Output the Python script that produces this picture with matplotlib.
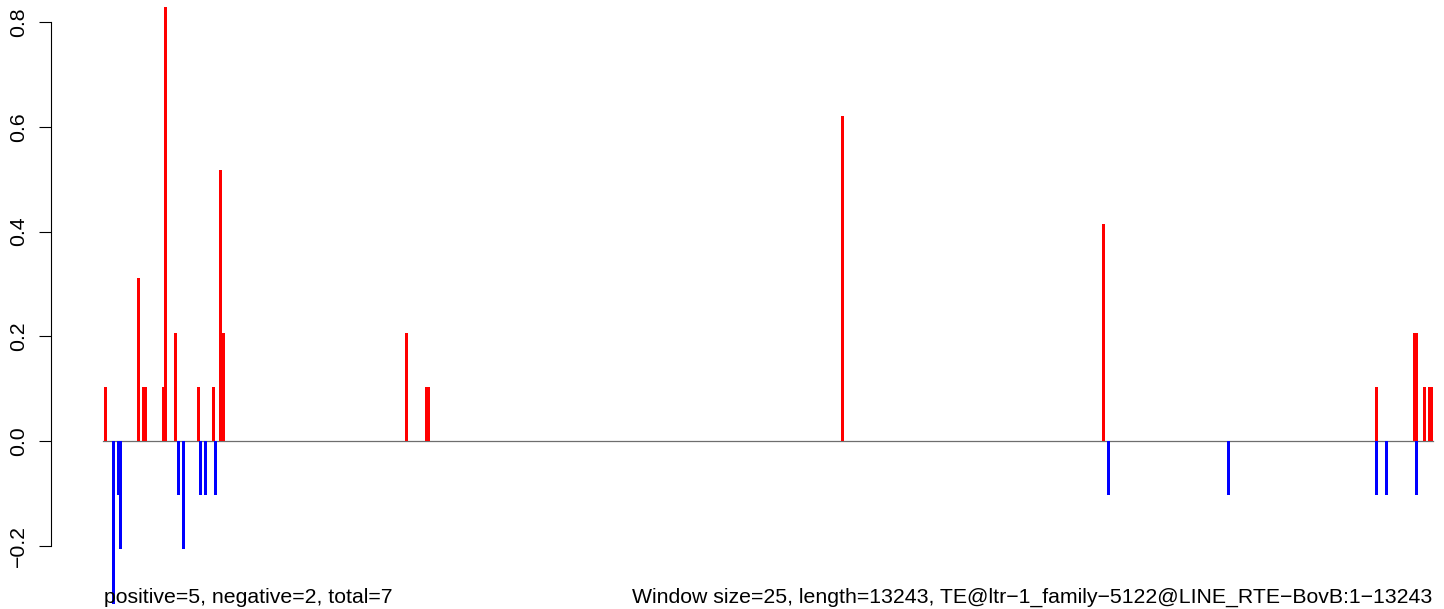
import matplotlib
matplotlib.use("Agg")
import matplotlib.pyplot as plt

plt.rcParams['font.family'] = ['Liberation Sans', 'DejaVu Sans']

# window indices (window size 25) and values
pos_idx = [0, 13, 15, 16, 23, 24, 28, 37, 43, 46, 47, 120, 128, 129, 294, 398, 507, 522, 523, 526, 528, 529]
pos_val = [0.1036, 0.3108, 0.1036, 0.1036, 0.1036, 0.8288, 0.2072, 0.1036, 0.1036, 0.518, 0.2072,
           0.2072, 0.1036, 0.1036, 0.6216, 0.4144, 0.1036, 0.2072, 0.2072, 0.1036, 0.1036, 0.1036]
neg_idx = [3, 5, 6, 29, 31, 38, 40, 44, 400, 448, 507, 511, 523]
neg_val = [-0.3108, -0.1036, -0.2072, -0.1036, -0.2072, -0.1036, -0.1036, -0.1036,
           -0.1036, -0.1036, -0.1036, -0.1036, -0.1036]
n_windows = 530
yticks = [-0.2, 0.0, 0.2, 0.4, 0.6, 0.8]
ytick_labels = ["−0.2", "0.0", "0.2", "0.4", "0.6", "0.8"]
left_text = "positive=5, negative=2, total=7"
right_text = "Window size=25, length=13243, TE@ltr−1_family−5122@LINE_RTE−BovB:1−13243"

W, H = 1444, 609
fig = plt.figure(figsize=(W / 100, H / 100), dpi=100)
ax_left_px = 50.7
ax = fig.add_axes([ax_left_px / W, 0, 1 - ax_left_px / W, 1])

px_per_win = 2.507
x0_px = 104
ax.set_xlim((ax_left_px - x0_px) / px_per_win, (W - x0_px) / px_per_win)
zero_px = 441
px_per_unit = 523.5
ax.set_ylim(-(H - zero_px) / px_per_unit, zero_px / px_per_unit)

bw = 3 / px_per_win
ax.plot([-0.4, n_windows + 0.2], [0, 0], color="#6e6e6e", lw=0.9, zorder=1)
ax.bar(pos_idx, pos_val, width=bw, align="edge", color="#ff0000", linewidth=0, zorder=2)
ax.bar(neg_idx, neg_val, width=bw, align="edge", color="#0000ff", linewidth=0, zorder=2)

for s in ["top", "right", "bottom"]:
    ax.spines[s].set_visible(False)
ax.spines["left"].set_bounds(-0.2, 0.8)
ax.spines["left"].set_linewidth(0.8)
ax.set_xticks([])
ax.set_yticks(yticks)
ax.set_yticklabels(ytick_labels, fontsize=15.3, rotation=90, va="center")
ax.tick_params(axis="y", length=8.3, width=0.8, pad=8)

fig.text(x0_px / W, (H - 603) / H, left_text, ha="left", va="baseline", fontsize=15.3)
fig.text(1432 / W, (H - 603) / H, right_text, ha="right", va="baseline", fontsize=15.3)

fig.savefig("out.png", dpi=100)
